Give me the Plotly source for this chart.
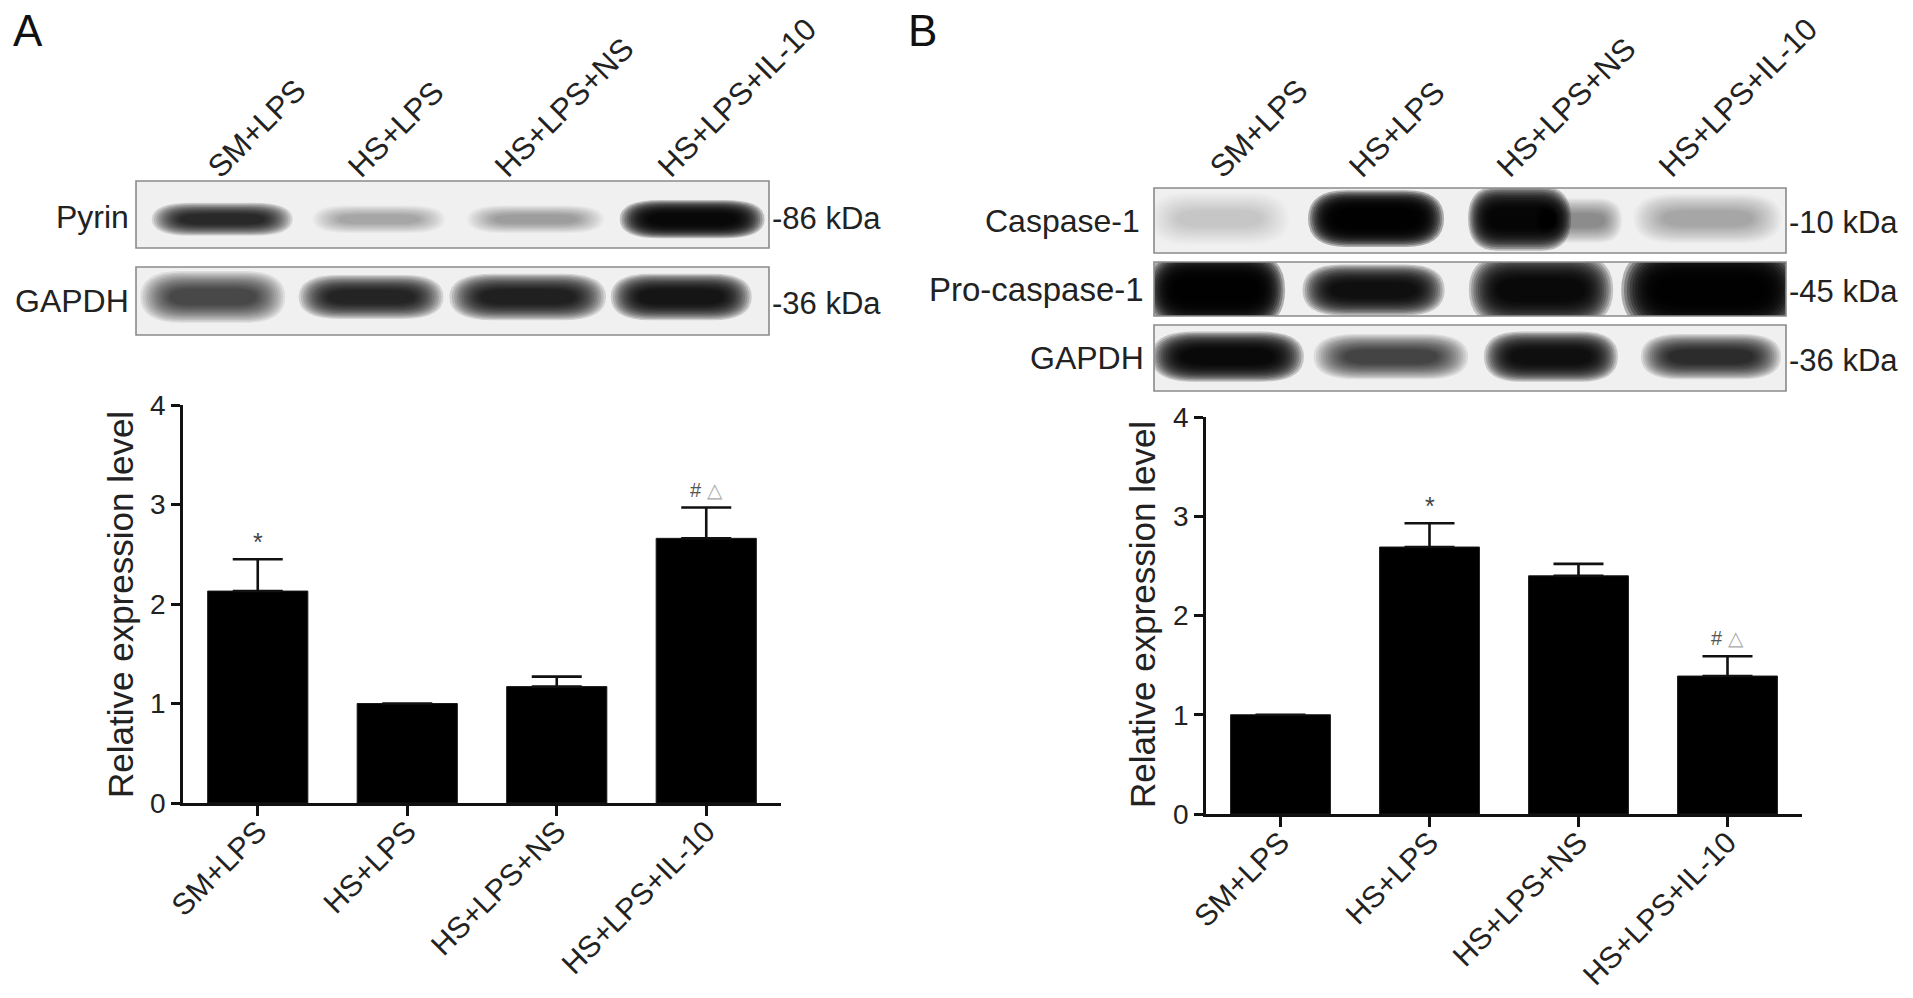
import plotly.graph_objects as go

# ---------------- data ----------------
groups = ["SM+LPS", "HS+LPS", "HS+LPS+NS", "HS+LPS+IL-10"]
y_ticks = [0, 1, 2, 3, 4]

pyrin_mean = [2.13, 1.00, 1.17, 2.66]
pyrin_sem = [0.32, 0.00, 0.10, 0.31]
pyrin_sig = ["*", "", "", "#△"]

casp_mean = [1.00, 2.69, 2.40, 1.39]
casp_sem = [0.00, 0.24, 0.12, 0.20]
casp_sig = ["", "*", "", "#△"]

# western-blot band intensities per lane (0 = no signal, 1 = saturated)
pyrin_band = [0.82, 0.30, 0.32, 0.96]
gapdh_a_band = [0.68, 0.84, 0.86, 0.90]
casp1_band = [0.16, 0.99, 0.97, 0.30]
procasp_band = [0.99, 0.93, 0.95, 0.99]
gapdh_b_band = [0.95, 0.70, 0.93, 0.80]

# ---------------- layout helpers ----------------
W, H = 1913, 998
FONT = "Liberation Sans, Arial, Helvetica, sans-serif"


def px(x):
    return x / W


def py(y):
    return 1 - y / H


fig = go.Figure()

# ---------------- bar charts ----------------
bar_style = dict(marker=dict(color="black", line=dict(color="#1a1a1a", width=1)), width=0.67,
                 showlegend=False, hoverinfo="x+y")
fig.add_trace(go.Bar(x=groups, y=pyrin_mean, xaxis="x", yaxis="y",
                     error_y=dict(type="data", array=pyrin_sem, arrayminus=[0] * 4, symmetric=False,
                                  thickness=2.6, width=25, color="#111"), **bar_style))
fig.add_trace(go.Bar(x=groups, y=casp_mean, xaxis="x2", yaxis="y2",
                     error_y=dict(type="data", array=casp_sem, arrayminus=[0] * 4, symmetric=False,
                                  thickness=2.6, width=25, color="#111"), **bar_style))

annotations = []
for xa, ya, means, sems, sigs in [("x", "y", pyrin_mean, pyrin_sem, pyrin_sig),
                                  ("x2", "y2", casp_mean, casp_sem, casp_sig)]:
    for g, m, s, sg in zip(groups, means, sems, sigs):
        if not sg:
            continue
        if sg == "*":
            annotations.append(dict(x=g, y=m + s + 0.17, xref=xa, yref=ya, text="*", showarrow=False,
                                    font=dict(family=FONT, size=25, color="#444"),
                                    xanchor="center", yanchor="middle"))
        else:
            annotations.append(dict(x=g, y=m + s + 0.18, xref=xa, yref=ya,
                                    text="<span style='color:#555'>#</span> <span style='color:#aaa'>△</span>",
                                    showarrow=False, font=dict(family=FONT, size=20, color="#555"),
                                    xanchor="center", yanchor="middle"))

xaxis_common = dict(type="category", range=[-0.5, 3.5], tickangle=-45, ticks="outside", ticklen=10,
                    tickwidth=2.5, tickcolor="#111", showline=True, linewidth=2.5, linecolor="#111",
                    showgrid=False, zeroline=False, automargin=False, ticklabelstandoff=-14,
                    tickfont=dict(family=FONT, size=30, color="#222"))
yaxis_common = dict(range=[0, 4], tickvals=y_ticks, ticks="outside", ticklen=9, tickwidth=2.5,
                    tickcolor="#111", showline=True, linewidth=2.5, linecolor="#111", showgrid=False,
                    zeroline=False, automargin=False, tickfont=dict(family=FONT, size=28, color="#222"))

layout = dict(
    autosize=True, margin=dict(l=0, r=0, t=0, b=0, pad=0, autoexpand=False),
    paper_bgcolor="white", plot_bgcolor="white", showlegend=False,
    xaxis=dict(domain=[px(183), px(781)], anchor="y", **xaxis_common),
    yaxis=dict(domain=[py(803), py(405)], anchor="x", **yaxis_common),
    xaxis2=dict(domain=[px(1206), px(1802)], anchor="y2", **xaxis_common),
    yaxis2=dict(domain=[py(814), py(417)], anchor="x2", **yaxis_common),
)

for x, y, in [(120, 604), (1142, 615)]:
    annotations.append(dict(x=px(x), y=py(y), xref="paper", yref="paper", text="Relative expression level",
                            textangle=-90, showarrow=False, xanchor="center", yanchor="middle",
                            font=dict(family=FONT, size=35, color="#222")))

# ---------------- western blot strips ----------------
strips = [
    dict(n=3, box=(136, 181, 769, 248), rng=(-0.55, 3.49), inten=pyrin_band, yc=0.43,
         geom=[(0.0, 0.72, 0.26), (1.0, 0.68, 0.22), (2.0, 0.70, 0.22), (3.0, 0.74, 0.30)],
         label="Pyrin", lx=131, kda="-86 kDa", fs=32),
    dict(n=4, box=(136, 267, 769, 335), rng=(-0.55, 3.49), inten=gapdh_a_band, yc=0.56,
         geom=[(-0.06, 0.74, 0.40), (0.95, 0.74, 0.34), (1.95, 0.80, 0.36), (2.93, 0.72, 0.36)],
         label="GAPDH", lx=131, kda="-36 kDa", fs=32),
    dict(n=5, box=(1154, 188, 1786, 253), rng=(-0.376, 3.455), inten=casp1_band, yc=0.53,
         geom=[(0.02, 0.68, 0.42), (0.97, 0.66, 0.46), (1.84, 0.50, 0.52), (2.98, 0.72, 0.40)],
         label="Caspase-1", lx=1142, kda="-10 kDa", fs=32),
    dict(n=6, box=(1154, 262, 1786, 316), rng=(-0.376, 3.455), inten=procasp_band, yc=0.48,
         geom=[(0.0, 0.67, 0.74), (0.955, 0.69, 0.50), (1.97, 0.70, 0.70), (3.0, 0.87, 0.84)],
         label="Pro-caspase-1", lx=1146, kda="-45 kDa", fs=33),
    dict(n=7, box=(1154, 325, 1786, 391), rng=(-0.376, 3.455), inten=gapdh_b_band, yc=0.52,
         geom=[(0.07, 0.74, 0.40), (1.06, 0.75, 0.36), (2.03, 0.65, 0.40), (3.0, 0.68, 0.36)],
         label="GAPDH", lx=1146, kda="-36 kDa", fs=32),
]

shapes = []
NL = 14
layers = []
for k in range(NL):
    f = k / (NL - 1)
    layers.append((1.25 - 0.5 * f, 1.9 - 1.3 * f, 1.0 / NL))


def band_path(xc, w, yc, t):
    x0, x1 = xc - w / 2, xc + w / 2
    y0, y1 = yc - t / 2, yc + t / 2
    r = w * 0.28
    return (f"M{x0 + r},{y0} L{x1 - r},{y0} Q{x1},{y0} {x1},{yc} Q{x1},{y1} {x1 - r},{y1} "
            f"L{x0 + r},{y1} Q{x0},{y1} {x0},{yc} Q{x0},{y0} {x0 + r},{y0} Z")


def add_band(xr, yr, xc, w, yc, t, inten):
    inten = min(inten, 0.99)
    for ws, ts, wt in layers:
        a = 1 - (1 - inten) ** wt
        shapes.append(dict(type="path", xref=xr, yref=yr, path=band_path(xc, w * ws, yc, t * ts),
                           fillcolor=f"rgba(0,0,0,{a:.3f})", line=dict(width=0), layer="above"))


for s in strips:
    n = s["n"]
    x0, y0, x1, y1 = s["box"]
    xr, yr = f"x{n}", f"y{n}"
    layout[f"xaxis{n}"] = dict(domain=[px(x0), px(x1)], range=list(s["rng"]), visible=False,
                               anchor=yr, fixedrange=True, automargin=False)
    layout[f"yaxis{n}"] = dict(domain=[py(y1), py(y0)], range=[0, 1], visible=False, anchor=xr,
                               fixedrange=True, automargin=False)
    fig.add_trace(go.Scatter(x=[None], y=[None], xaxis=xr, yaxis=yr, hoverinfo="skip", showlegend=False))
    shapes.append(dict(type="rect", xref=f"{xr} domain", yref=f"{yr} domain", x0=0, x1=1, y0=0, y1=1,
                       fillcolor="#f0f0f0", line=dict(width=0), layer="below"))
    for inten, (xc, w, t) in zip(s["inten"], s["geom"]):
        add_band(xr, yr, xc, w, s["yc"], t, inten)
    if n == 5:  # smear trailing the HS+LPS+NS caspase-1 band
        add_band(xr, yr, 2.2, 0.42, 0.50, 0.36, 0.40 * casp1_band[2])
    shapes.append(dict(type="rect", xref=f"{xr} domain", yref=f"{yr} domain", x0=0, x1=1, y0=0, y1=1,
                       fillcolor="rgba(0,0,0,0)", line=dict(color="#8a8a8a", width=1.6), layer="above"))
    ymid = (y0 + y1) / 2 + (2 if n == 3 else 0)
    annotations.append(dict(x=px(s["lx"]), y=py(ymid), xref="paper", yref="paper", text=s["label"],
                            xanchor="right", yanchor="middle", showarrow=False,
                            font=dict(family=FONT, size=s["fs"], color="#222")))
    annotations.append(dict(x=px(x1 + 1), y=py(ymid + 2), xref="paper", yref="paper", text=s["kda"],
                            xanchor="left", yanchor="middle", showarrow=False,
                            font=dict(family=FONT, size=31, color="#222")))

# lane labels above blots
for lefts in ([198, 338, 485, 648], [1200, 1339, 1487, 1649]):
    for g, lx in zip(groups, lefts):
        annotations.append(dict(x=px(lx), y=py(187), xref="paper", yref="paper", text=g, textangle=-45,
                                xanchor="left", yanchor="bottom", showarrow=False,
                                font=dict(family=FONT, size=31, color="#222")))

# panel letters
for letter, lx in [("A", 11), ("B", 906)]:
    annotations.append(dict(x=px(lx), y=py(31), xref="paper", yref="paper", text=letter,
                            xanchor="left", yanchor="middle", showarrow=False,
                            font=dict(family=FONT, size=44, color="#111")))

layout["annotations"] = annotations
layout["shapes"] = shapes
fig.update_layout(**layout)
fig.write_html("out.html", default_width="100vw", default_height="100vh",
               config={"displayModeBar": False, "responsive": True},
               post_script="document.body.style.margin='0';document.body.style.overflow='hidden';"
                           "window.dispatchEvent(new Event('resize'));")
